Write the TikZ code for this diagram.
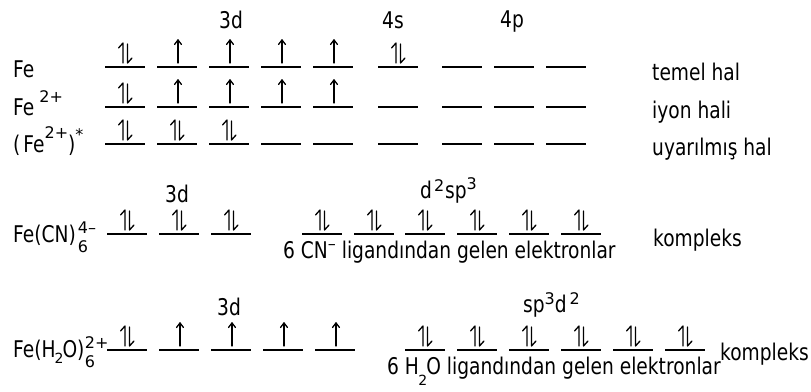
\documentclass[tikz,border=0pt]{standalone}
\usepackage{fontspec}
\setmainfont{DejaVu Sans}
\newfontfamily\mainfam[FakeStretch=0.81]{DejaVu Sans}
\newfontfamily\supfam{DejaVu Sans}
\newcommand\mainsz{\mainfam\fontsize{23}{26}\selectfont}
\newcommand\supsz{\supfam\fontsize{16}{18}\selectfont}
\newcommand\subsz{\supfam\fontsize{14}{16}\selectfont}
\newcommand\Sup[2][8pt]{\raisebox{#1}{\supsz #2}}
\newcommand\Sub[2][-6pt]{\raisebox{#1}{\subsz #2}}
\newcommand\SubSup[2]{\makebox[0pt][l]{\raisebox{-10pt}{\supsz #1}}\raisebox{9pt}{\supsz #2}}
\tikzset{
  lvl/.style={line width=2pt},
  spin/.style={line width=1.3pt, line cap=round, line join=round},
  txt/.style={inner sep=0pt, font=\mainsz, anchor=base west},
  txtc/.style={inner sep=0pt, font=\mainsz, anchor=base},
}
% orbital: left x, line y, kind (0 empty, 1 up arrow, 2 paired)
\newcommand\orbl[3]{%
  \draw[lvl] (#1,#2) -- (#1+40,#2);
  \ifnum#3=1
    \draw[spin] (#1+21,#2-4) -- (#1+21,#2-27);
    \draw[spin] (#1+17.5,#2-22.5) -- (#1+21,#2-27) -- (#1+24.5,#2-22.5);
  \fi
  \ifnum#3=2
    \draw[spin] (#1+18,#2-4) -- (#1+18,#2-24) -- (#1+13.5,#2-19);
    \draw[spin] (#1+22.5,#2-23) -- (#1+22.5,#2-4) -- (#1+27,#2-9);
  \fi}
\begin{document}
\begin{tikzpicture}[x=1pt,y=-1pt]
\useasboundingbox (0,0) rectangle (811,391);
% top labels
\node[txtc] (l3d) at (231,28) {3d};
\node[txtc] (l4s) at (393,28) {4s};
\node[txtc] (l4p) at (512,27) {4p};
% row labels
\node[txt] (fe) at (13,77) {Fe};
\node[txt] (fe2) at (13,115) {Fe\kern5pt\Sup[13pt]{2+}};
\node[txt] (fe2x) at (13,152) {(\kern3pt Fe\Sup[14pt]{2+})\Sup[12pt]{*}};
\node[txt] (temel) at (652,80) {temel hal};
\node[txt] (iyon) at (652,118) {iyon hali};
\node[txt] (uyar) at (652,155) {uyarılmış hal};
% rows 1-3
\foreach \xx/\kk in {105/2,157/1,209/1,261/1,313/1,378/2,442/0,494/0,546/0}{\orbl{\xx}{67}{\kk}}
\foreach \xx/\kk in {105/2,157/1,209/1,261/1,313/1,378/0,442/0,494/0,546/0}{\orbl{\xx}{107}{\kk}}
\foreach \xx/\kk in {105/2,157/2,209/2,261/0,313/0,378/0,442/0,494/0,546/0}{\orbl{\xx}{144}{\kk}}
% row 4
\node[txt] (fecn) at (13,242) {Fe(CN)\kern2pt\SubSup{6}{4–}};
\node[txtc] (c3d) at (177,202) {3d};
\node[txt] (d2sp3) at (420,198) {d\kern2pt\Sup[7pt]{2}\kern1pt sp\Sup[9pt]{3}};
\node[txt] (komp1) at (653,246) {kompleks};
\node[txt] (cnlig) at (283,258) {6 CN\Sup[9pt]{–} ligandından gelen elektronlar};
\foreach \xx in {107,159,211,302,354,405,457,509,561}{\orbl{\xx}{234}{2}}
% row 5
\node[txt] (feh2o) at (13,357) {Fe(H\kern-1pt\Sub[-6pt]{2}\kern-1pt O)\kern0.5pt\SubSup{6}{2+}};
\node[txtc] (h3d) at (229,315) {3d};
\node[txt] (sp3d2) at (523,312) {sp\Sup[8pt]{3}d\kern3pt\Sup[8pt]{2}};
\node[txt] (komp2) at (720,360) {kompleks};
\node[txt] (h2olig) at (387,374) {6 H\kern-0.5pt\Sub[-11pt]{2}\kern-1pt O ligandından gelen elektronlar};
\foreach \xx/\kk in {107/2,159/1,211/1,263/1,315/1,405/2,457/2,509/2,561/2,613/2,665/2}{\orbl{\xx}{350}{\kk}}
\end{tikzpicture}
\end{document}
